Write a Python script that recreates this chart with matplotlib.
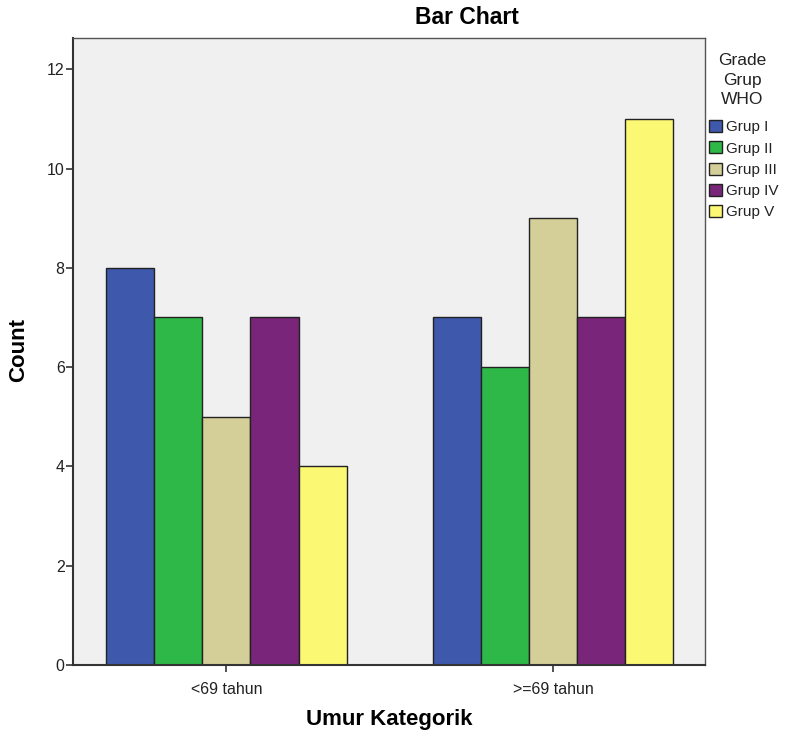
import matplotlib
matplotlib.use("Agg")
import matplotlib.pyplot as plt
import numpy as np

# ----------------- 数据 -----------------
CATEGORIES = ["<69 tahun", ">=69 tahun"]
GROUPS = ["Grup I", "Grup II", "Grup III", "Grup IV", "Grup V"]
COUNTS = {
    "Grup I": [8, 7],
    "Grup II": [7, 6],
    "Grup III": [5, 9],
    "Grup IV": [7, 7],
    "Grup V": [4, 11],
}
COLORS = ["#3E58AC", "#2EB848", "#D4CF98", "#79267A", "#FBF874"]
Y_TICKS = [0, 2, 4, 6, 8, 10, 12]

plt.rcParams["font.family"] = ["Liberation Sans", "DejaVu Sans"]

W, H = 786, 738
fig = plt.figure(figsize=(W / 100, H / 100), dpi=100)
ax = fig.add_axes([73 / W, 1 - 665 / H, 632 / W, 627 / H])
ax.set_facecolor("#F0F0F0")

x = np.arange(len(CATEGORIES))
width = 0.1474
for i, (g, c) in enumerate(zip(GROUPS, COLORS)):
    ax.bar(x + (i - 2) * width, COUNTS[g], width, color=c,
           edgecolor="#222222", linewidth=1.0, label=g, zorder=2)

ax.set_xlim(-0.469, 1.465)
ax.set_ylim(0, 12.63)
ax.set_yticks(Y_TICKS)
ax.set_xticks(x)
ax.set_xticklabels(CATEGORIES)
ax.tick_params(axis="both", labelsize=11.5, colors="#333333", length=5,
               width=1.2, direction="out", labelcolor="#222222")
ax.tick_params(axis="x", pad=7)
ax.tick_params(axis="y", pad=1)

for side in ["left", "bottom"]:
    ax.spines[side].set_color("#333333")
    ax.spines[side].set_linewidth(1.5)
for side in ["top", "right"]:
    ax.spines[side].set_color("#555555")
    ax.spines[side].set_linewidth(1.0)

# 标题和轴标签
fig.text(467 / W, 1 - 18 / H, "Bar Chart", fontsize=16.5, fontweight="bold",
         ha="center", va="center")
fig.text(389 / W, 1 - 720 / H, "Umur Kategorik", fontsize=16, fontweight="bold",
         ha="center", va="center")
fig.text(19 / W, 1 - 350 / H, "Count", fontsize=16, fontweight="bold",
         ha="center", va="center", rotation=90)

# 图例
fig.text(742 / W, 1 - 80 / H, "Grade\nGrup\nWHO", fontsize=12.5,
         ha="center", va="center", multialignment="center",
         linespacing=1.38, color="#222222")
leg = ax.legend(loc="upper left", bbox_to_anchor=(709 / W, 1 - 120 / H),
                bbox_transform=fig.transFigure, frameon=False, fontsize=11,
                handlelength=0.85, handleheight=0.85, handletextpad=0.25,
                labelspacing=0.45, borderaxespad=0, borderpad=0)
for t in leg.get_texts():
    t.set_color("#222222")

fig.savefig("out.png", dpi=100)
